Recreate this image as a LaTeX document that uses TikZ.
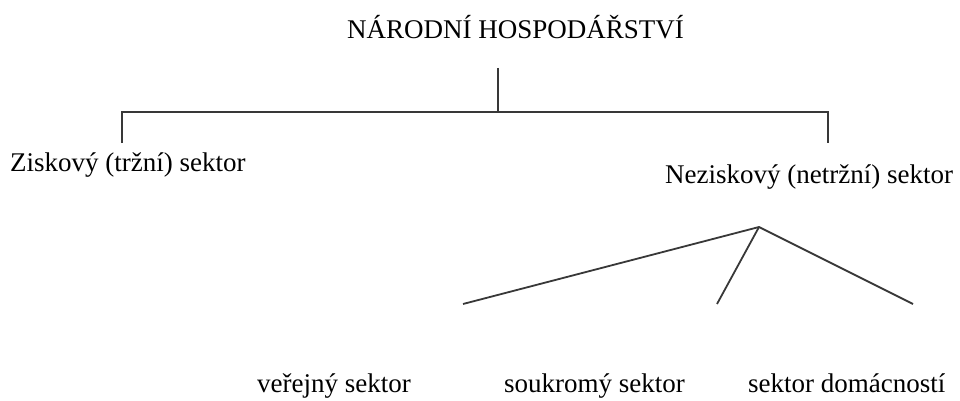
\documentclass[tikz,border=0pt]{standalone}
\usepackage{fontspec}
\setmainfont{Liberation Serif}
\begin{document}
\begin{tikzpicture}[x=1pt,y=-1pt,
  lbl/.style={inner sep=0pt,anchor=base west,font=\fontsize{27}{30}\selectfont},
  ln/.style={line width=1.8pt,draw=black!78}]
\useasboundingbox (0,0) rectangle (960,401);
% texts
\node[lbl] (nh) at (347,39) {NÁRODNÍ HOSPODÁŘSTVÍ};
\node[lbl] (zisk) at (10,171) {Ziskový (tržní) sektor};
\node[lbl] (nezisk) at (665,183) {Neziskový (netržní) sektor};
\node[lbl] (ver) at (257,392) {veřejný sektor};
\node[lbl] (souk) at (504,392) {soukromý sektor};
\node[lbl] (dom) at (748,392) {sektor domácností};
% junction coordinates
\coordinate (c0) at (498,68);
\coordinate (c1) at (498,112);
\coordinate (cl) at (122,112);
\coordinate (cr) at (828,112);
\coordinate (cld) at (122,143);
\coordinate (crd) at (828,143);
\coordinate (apex) at (759,227);
\coordinate (e1) at (463,304);
\coordinate (e2) at (717,304);
\coordinate (e3) at (913,304);
% connectors
\draw[ln] (c0) -- (c1);
\draw[ln] (cld) -- (cl) -- (cr) -- (crd);
\draw[ln] (e1) -- (apex) -- (e3);
\draw[ln] (apex) -- (e2);
\end{tikzpicture}
\end{document}
